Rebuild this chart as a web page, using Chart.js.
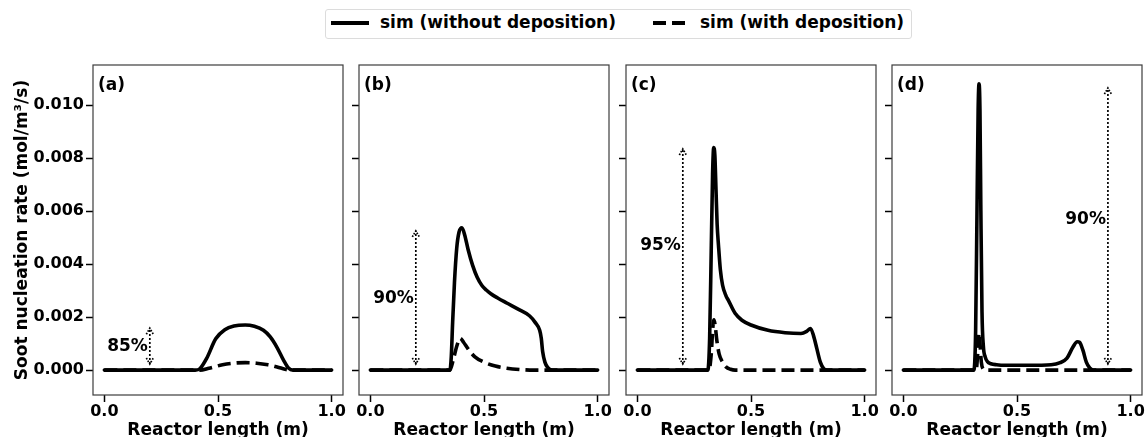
<!DOCTYPE html>
<html><head><meta charset="utf-8">
<script src="https://cdn.jsdelivr.net/npm/chart.js@4.4.0/dist/chart.umd.min.js"></script>
<style>
html,body{margin:0;padding:0;background:#fff;}
#wrap{position:relative;width:1145px;height:437px;overflow:hidden;background:#fff;font-family:"DejaVu Sans",sans-serif;}
canvas.pc{position:absolute;top:0;}
#legend{position:absolute;left:325px;top:9px;width:587px;height:30px;border:1px solid #dcdcdc;border-radius:3px;box-sizing:border-box;background:#fff;z-index:5;}
.lt{position:absolute;top:2px;height:24px;line-height:24px;font:bold 17px "DejaVu Sans";color:#000;white-space:nowrap;}
.ls{position:absolute;top:11px;height:4px;background:#000;}
</style>
</head><body>
<div id="wrap">
  <div id="legend">
    <div class="ls" style="left:5px;width:38px;"></div>
    <div class="lt" id="lg0" style="left:54px;"></div>
    <div class="ls" style="left:327px;width:13px;"></div>
    <div class="ls" style="left:346px;width:13px;"></div>
    <div class="lt" id="lg1" style="left:374px;"></div>
  </div>
  <canvas class="pc" id="c0"></canvas>
  <canvas class="pc" id="c1"></canvas>
  <canvas class="pc" id="c2"></canvas>
  <canvas class="pc" id="c3"></canvas>
</div>
<script>
// ---------- data ----------
const seriesNames = ['sim (without deposition)', 'sim (with deposition)'];
const panelLabels = ['(a)', '(b)', '(c)', '(d)'];
const xTicks = [0.0, 0.5, 1.0];
const yTicks = [0.000, 0.002, 0.004, 0.006, 0.008, 0.010];
const yTitle = 'Soot nucleation rate (mol/m³/s)';
const xTitle = 'Reactor length (m)';

// (a)
const aSolidX = [0, 0.40, 0.42, 0.45, 0.49, 0.53, 0.57, 0.62, 0.66, 0.70, 0.73, 0.76, 0.79, 0.81, 0.83, 1.0];
const aSolidY = [0, 0, 0.00005, 0.00044, 0.00118, 0.00152, 0.00166, 0.0017, 0.00165, 0.0015, 0.00125, 0.00085, 0.00035, 0.00008, 0, 0];
const aDashX  = [0, 0.42, 0.46, 0.52, 0.58, 0.62, 0.67, 0.72, 0.76, 0.80, 0.82, 1.0];
const aDashY  = [0, 0, 0.00007, 0.0002, 0.00027, 0.00028, 0.00026, 0.0002, 0.00012, 0.00002, 0, 0];
// (b)
const bSolidX = [0, 0.350, 0.356, 0.362, 0.370, 0.380, 0.390, 0.403, 0.415, 0.43, 0.45, 0.47, 0.49, 0.51, 0.53, 0.56, 0.60, 0.65, 0.70, 0.725, 0.745, 0.752, 0.758, 0.768, 0.78, 0.80, 1.0];
const bSolidY = [0, 0, 0.0005, 0.0018, 0.0033, 0.0046, 0.0052, 0.00537, 0.0051, 0.00455, 0.00395, 0.0035, 0.0032, 0.00302, 0.00288, 0.00272, 0.00253, 0.0023, 0.00205, 0.0018, 0.0015, 0.0012, 0.0007, 0.0003, 0.0001, 0, 0];
const bDashX  = [0, 0.35, 0.365, 0.38, 0.395, 0.41, 0.43, 0.46, 0.50, 0.55, 0.60, 0.66, 0.72, 1.0];
const bDashY  = [0, 0, 0.0004, 0.0009, 0.0012, 0.00105, 0.0008, 0.0005, 0.0003, 0.00015, 0.00007, 0.00002, 0, 0];
// (c)
const cSolidX = [0, 0.31, 0.318, 0.325, 0.331, 0.336, 0.341, 0.346, 0.351, 0.357, 0.365, 0.375, 0.39, 0.40, 0.43, 0.46, 0.50, 0.575, 0.65, 0.72, 0.745, 0.762, 0.775, 0.79, 0.805, 0.82, 0.835, 1.0];
const cSolidY = [0, 0, 0.0012, 0.0045, 0.0074, 0.0084, 0.0081, 0.0068, 0.0055, 0.0047, 0.0038, 0.0032, 0.0028, 0.00264, 0.00214, 0.00188, 0.0017, 0.0015, 0.00141, 0.00138, 0.00146, 0.00157, 0.0013, 0.0008, 0.0003, 0.00005, 0, 0];
const cDashX  = [0, 0.315, 0.325, 0.332, 0.337, 0.342, 0.35, 0.36, 0.375, 0.39, 0.41, 0.43, 1.0];
const cDashY  = [0, 0, 0.0006, 0.0016, 0.0019, 0.0017, 0.0011, 0.0006, 0.0003, 0.00012, 0.00003, 0, 0];
// (d)
const dSolidX = [0, 0.31, 0.318, 0.324, 0.329, 0.333, 0.337, 0.341, 0.346, 0.352, 0.36, 0.37, 0.385, 0.41, 0.45, 0.55, 0.65, 0.69, 0.72, 0.745, 0.765, 0.775, 0.79, 0.805, 0.82, 0.835, 1.0];
const dSolidY = [0, 0, 0.0015, 0.006, 0.0098, 0.0108, 0.0098, 0.006, 0.0022, 0.0009, 0.0005, 0.00032, 0.00024, 0.0002, 0.00018, 0.00018, 0.0002, 0.00028, 0.00045, 0.00085, 0.00107, 0.00105, 0.00075, 0.0003, 0.00008, 0, 0];
const dDashX  = [0, 0.32, 0.327, 0.333, 0.338, 0.343, 0.35, 0.36, 1.0];
const dDashY  = [0, 0, 0.0006, 0.0014, 0.0009, 0.0003, 0.00005, 0, 0];

// reduction arrows: x position, lower end, upper end, label, label height
const arrowX      = [0.2, 0.2, 0.2, 0.9];
const arrowLow    = [0.00023, 0.00023, 0.00023, 0.00023];
const arrowHigh   = [0.00158, 0.00525, 0.00834, 0.01064];
const arrowLabels = ['85%', '90%', '95%', '90%'];
const arrowLabelY = [0.00087, 0.00268, 0.00468, 0.00566];

// ---------- layout ----------
const X_MIN = -0.05, X_MAX = 1.05;
const Y_MIN = -0.00094, Y_MAX = 0.01151;
const plotLeft  = [93, 359, 626, 892];
const plotRight = [343, 609, 876, 1142];
const PLOT_TOP = 65, CANVAS_H = 445, X_AXIS_H = 50, RIGHT_PAD = 12;

document.getElementById('lg0').textContent = seriesNames[0];
document.getElementById('lg1').textContent = seriesNames[1];

Chart.defaults.font.family = '"DejaVu Sans", sans-serif';
Chart.defaults.color = '#000';

const pts = (xs, ys) => xs.map((x, i) => ({x: x, y: ys[i]}));
const panels = [
  [pts(aSolidX, aSolidY), pts(aDashX, aDashY)],
  [pts(bSolidX, bSolidY), pts(bDashX, bDashY)],
  [pts(cSolidX, cSolidY), pts(cDashX, cDashY)],
  [pts(dSolidX, dSolidY), pts(dDashX, dDashY)]
];

const framePlugin = {
  id: 'frame',
  afterDatasetsDraw(chart, args, o) {
    const {ctx, chartArea: a, scales} = chart;
    const i = o.idx;
    ctx.save();
    ctx.strokeStyle = '#3c3c3c';
    ctx.lineWidth = 1.2;
    ctx.strokeRect(a.left, a.top, a.right - a.left, a.bottom - a.top);
    // panel label
    ctx.fillStyle = '#000';
    ctx.font = 'bold 17px "DejaVu Sans"';
    ctx.textAlign = 'left';
    ctx.textBaseline = 'middle';
    ctx.fillText(panelLabels[i], a.left + 5, a.top + 21);
    // arrow
    const px = scales.x.getPixelForValue(arrowX[i]);
    const p0 = scales.y.getPixelForValue(arrowLow[i]);
    const p1 = scales.y.getPixelForValue(arrowHigh[i]);
    ctx.strokeStyle = '#000';
    ctx.lineWidth = 1.7;
    ctx.setLineDash([2, 2]);
    ctx.beginPath();
    ctx.moveTo(px, p0); ctx.lineTo(px, p1);
    ctx.stroke();
    ctx.setLineDash([1.6, 1.4]);
    ctx.beginPath();
    ctx.moveTo(px - 3.5, p1 + 6); ctx.lineTo(px, p1); ctx.lineTo(px + 3.5, p1 + 6);
    ctx.moveTo(px - 3.5, p0 - 6); ctx.lineTo(px, p0); ctx.lineTo(px + 3.5, p0 - 6);
    ctx.stroke();
    ctx.setLineDash([]);
    ctx.font = 'bold 17px "DejaVu Sans"';
    ctx.textAlign = 'right';
    ctx.fillText(arrowLabels[i], px - 2, scales.y.getPixelForValue(arrowLabelY[i]));
    ctx.restore();
  }
};

panels.forEach((ds, i) => {
  const yW = i === 0 ? 93 : 10;
  const cLeft = plotLeft[i] - yW;
  const cW = plotRight[i] + RIGHT_PAD - cLeft;
  const cv = document.getElementById('c' + i);
  cv.width = cW; cv.height = CANVAS_H;
  cv.style.left = cLeft + 'px';
  cv.style.width = cW + 'px'; cv.style.height = CANVAS_H + 'px';
  new Chart(cv, {
    type: 'line',
    data: {
      datasets: [
        {label: seriesNames[0], data: ds[0], borderColor: '#000', borderWidth: 3.6, pointRadius: 0,
         cubicInterpolationMode: 'monotone', fill: false, borderJoinStyle: 'round', borderCapStyle: 'round'},
        {label: seriesNames[1], data: ds[1], borderColor: '#000', borderWidth: 3.6, pointRadius: 0,
         cubicInterpolationMode: 'monotone', fill: false, borderDash: [13, 6], borderCapStyle: 'butt'}
      ]
    },
    options: {
      responsive: false, animation: false, devicePixelRatio: 1,
      layout: {padding: {left: 0, right: RIGHT_PAD, top: PLOT_TOP, bottom: 0}},
      plugins: {legend: {display: false}, tooltip: {enabled: false}, frame: {idx: i}},
      scales: {
        x: {
          type: 'linear', min: X_MIN, max: X_MAX,
          afterBuildTicks: s => { s.ticks = xTicks.map(v => ({value: v})); },
          afterFit: s => { s.height = X_AXIS_H; },
          grid: {drawOnChartArea: false, drawTicks: true, tickLength: 7, tickWidth: 1.5, tickColor: '#000'},
          border: {display: false},
          ticks: {font: {size: 16, weight: 'bold'}, color: '#000', padding: 0, maxRotation: 0, autoSkip: false,
                  callback: v => Number(v).toFixed(1)},
          title: {display: true, text: xTitle, font: {size: 17, weight: 'bold'}, color: '#000', padding: {top: 0, bottom: 4}}
        },
        y: {
          type: 'linear', min: Y_MIN, max: Y_MAX,
          afterBuildTicks: s => { s.ticks = yTicks.map(v => ({value: v})); },
          afterFit: s => { s.width = yW; },
          grid: {drawOnChartArea: false, drawTicks: true, tickLength: 7, tickWidth: 1.5, tickColor: '#000'},
          border: {display: false},
          ticks: {display: i === 0, font: {size: 16, weight: 'bold'}, color: '#000', padding: 2,
                  callback: v => Number(v).toFixed(3)},
          title: {display: i === 0, text: yTitle, font: {size: 17, weight: 'bold'}, color: '#000', padding: {top: 12, bottom: 0}}
        }
      }
    },
    plugins: [framePlugin]
  });
});
</script>
</body></html>
